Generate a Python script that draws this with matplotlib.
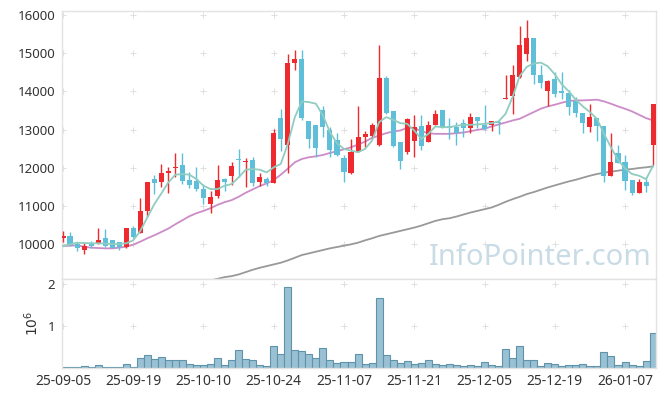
import numpy as np
import matplotlib
matplotlib.use('Agg')
import matplotlib.pyplot as plt

plt.rcParams['font.family'] = ['Noto Sans', 'DejaVu Sans']

# daily OHLC (KRW), 85 trading days 25-09-05 .. 26-01-13
open_ = [10150, 10210, 10010, 9830, 10020, 10010, 10150, 10100, 10045, 9920,
         10410, 10300, 10870, 11700, 11630, 11860, 11980, 12080, 11685, 11660,
         11440, 11060, 11265, 11700, 11770, 12210, 12140, 12200, 11615, 11700,
         11590, 13305, 12605, 14745, 14860, 13210, 13105, 13520, 12975, 12730,
         12250, 11860, 12420, 12815, 12840, 12595, 14360, 13475, 12685, 12405,
         12695, 13090, 12665, 13105, 13520, 13080, 13060, 13175, 13045, 13340,
         13105, 13105, 13195, 13790, 13875, 14375, 14990, 15405, 14440, 14010,
         14315, 14010, 13965, 13735, 13440, 13060, 13305, 13080, 11770, 12380,
         12160, 11685, 11325, 11630, 12595]
close = [10210, 9975, 9905, 9950, 9950, 10105, 9950, 9905, 9920, 10410,
         10185, 10870, 11630, 11590, 11860, 11920, 12025, 11660, 11550, 11440,
         11195, 11235, 11685, 11630, 12050, 12190, 12180, 11590, 11765, 11590,
         12910, 12755, 14755, 14860, 13305, 12755, 12520, 13060, 12450, 12335,
         11885, 12420, 12815, 12870, 13105, 14350, 13430, 12580, 12185, 13265,
         13060, 12560, 13105, 13410, 13045, 13045, 12910, 13045, 13340, 13235,
         13020, 13210, 13180, 13825, 14420, 15210, 15405, 14440, 14220, 14265,
         13920, 13955, 13590, 13430, 13165, 13340, 13080, 11770, 12160, 12125,
         11660, 11325, 11630, 11525, 13675]
high = [10340, 10315, 10060, 10035, 10080, 10410, 10385, 10100, 10060, 10430,
        10465, 11200, 11630, 11815, 12095, 12010, 12395, 12395, 11880, 12010,
        11570, 11395, 12080, 11720, 12140, 12490, 12255, 12290, 11850, 11765,
        13015, 13545, 14990, 15095, 15095, 13210, 13105, 13605, 13060, 12905,
        12330, 12755, 13605, 12955, 13165, 15210, 14395, 13475, 12685, 13305,
        13370, 13370, 13220, 13520, 13520, 13305, 13195, 13265, 13430, 13340,
        13650, 13235, 13235, 14440, 14685, 15710, 15870, 15405, 14685, 14290,
        14510, 14510, 14025, 13850, 13440, 13675, 13305, 13080, 12910, 12595,
        12335, 11685, 11700, 11745, 13675]
low = [10040, 9950, 9815, 9730, 9885, 9990, 9920, 9885, 9835, 9905,
       10150, 10300, 10710, 11305, 11500, 11325, 11745, 11570, 11465, 11395,
       11045, 10805, 11200, 11380, 11545, 11745, 11500, 11525, 11525, 11525,
       11590, 12445, 11850, 14570, 13255, 12520, 12290, 12800, 12270, 12315,
       11625, 11835, 12420, 12535, 12780, 12580, 13395, 12535, 11975, 12360,
       12270, 12465, 12665, 13105, 13045, 12755, 12605, 12800, 12910, 13045,
       13000, 12950, 12885, 13790, 13395, 14360, 14800, 14200, 14095, 13615,
       13850, 13790, 13370, 13325, 12905, 12930, 12710, 11615, 11770, 12125,
       11410, 11280, 11325, 11350, 12070]

# moving averages as drawn on the chart
ma5 = [9947, 9991, 10035, 10026, 10018, 10018, 10009, 10000, 10000, 10018,
       10097, 10342, 10693, 11044, 11325, 11614, 11816, 11833, 11816, 11702,
       11526, 11439, 11439, 11526, 11570, 11746, 11947, 11965, 11947, 11877,
       12009, 12097, 12623, 13325, 13737, 13719, 13675, 13368, 12930, 12640,
       12491, 12447, 12404, 12491, 12711, 13193, 13325, 13254, 13167, 13149,
       12974, 12754, 12886, 13079, 13061, 13061, 13096, 13123, 13123, 13132,
       13149, 13167, 13211, 13412, 13851, 14395, 14640, 14728, 14754, 14658,
       14447, 14184, 14000, 13781, 13605, 13456, 13281, 12886, 12535, 12202,
       11982, 11833, 11789, 11702, 12053]
ma20 = [9947, 9956, 9965, 9930, 9904, 9895, 9886, 9886, 9904, 9930,
        9982, 10061, 10149, 10228, 10316, 10404, 10518, 10623, 10728, 10807,
        10868, 10939, 11026, 11096, 11149, 11237, 11342, 11430, 11518, 11588,
        11675, 11816, 11974, 12140, 12228, 12272, 12298, 12333, 12386, 12430,
        12482, 12535, 12605, 12684, 12781, 12842, 12904, 12947, 12974, 13044,
        13044, 12956, 12904, 12886, 12886, 12886, 12904, 12921, 12956, 12991,
        13018, 13079, 13132, 13184, 13237, 13281, 13368, 13456, 13544, 13605,
        13649, 13702, 13746, 13763, 13763, 13772, 13781, 13737, 13675, 13605,
        13544, 13474, 13386, 13298, 13237]
ma120 = [np.nan] * 21 + [
        9044, 9088, 9132, 9158, 9202, 9263, 9325, 9377, 9421,
        9465, 9509, 9570, 9640, 9711, 9754, 9798, 9842, 9886, 9921,
        9956, 9991, 10035, 10096, 10149, 10211, 10254, 10298, 10342, 10386,
        10430, 10482, 10544, 10605, 10649, 10675, 10719, 10772, 10825, 10868,
        10912, 10956, 11026, 11105, 11175, 11237, 11307, 11360, 11421, 11482,
        11535, 11588, 11640, 11684, 11737, 11789, 11833, 11868, 11895, 11921,
        11947, 11965, 11991, 12009, 12035]

volume = [20000, 20000, 20000, 50000, 20000, 70000, 20000, 20000, 20000, 100000,
          20000, 240000, 310000, 220000, 260000, 180000, 200000, 180000, 100000, 70000,
          70000, 100000, 240000, 70000, 200000, 430000, 220000, 180000, 70000, 50000,
          530000, 340000, 1940000, 430000, 410000, 340000, 240000, 480000, 180000, 120000,
          140000, 140000, 340000, 100000, 120000, 1660000, 310000, 200000, 120000, 170000,
          100000, 120000, 190000, 100000, 70000, 100000, 70000, 50000, 70000, 50000,
          140000, 70000, 50000, 460000, 240000, 530000, 190000, 190000, 50000, 120000,
          100000, 50000, 70000, 70000, 100000, 50000, 50000, 380000, 290000, 70000,
          140000, 70000, 50000, 170000, 840000]

tick_pos = [0, 10, 20, 30, 40, 50, 60, 70, 80]
tick_labels = ['25-09-05', '25-09-19', '25-10-10', '25-10-24', '25-11-07',
               '25-11-21', '25-12-05', '25-12-19', '26-01-07']
price_ticks = [10000, 11000, 12000, 13000, 14000, 15000, 16000]

UP = '#ee2a2e'
DOWN = '#5fbfd9'
SPINE = '#e3e3e3'
TXT = '#333333'

o = np.array(open_, float)
c = np.array(close, float)
h = np.array(high, float)
l = np.array(low, float)
x = np.arange(len(o))
up = c >= o
colors = np.where(up, UP, DOWN)

fig = plt.figure(figsize=(6.65, 3.97), dpi=100)
ax1 = fig.add_axes([62/665, 1 - 279/397, 594/665, 268/397])
ax2 = fig.add_axes([62/665, 1 - 368/397, 594/665, 89/397], sharex=ax1)

# "+" grid marks
for ax, yt in [(ax1, price_ticks), (ax2, [1, 2])]:
    gx, gy = np.meshgrid(tick_pos, yt)
    ax.plot(gx.ravel(), gy.ravel(), ls='none', marker='+', ms=5, mew=0.7,
            color='#e0e0e0', zorder=0)

# watermark
ax1.text(0.805, 0.082, 'InfoPointer.com', transform=ax1.transAxes,
         fontsize=21, color='#c9dce6', ha='center', va='center', zorder=0)

# moving averages
ax1.plot(x, ma120, color='#999999', lw=1.3, zorder=2)
ax1.plot(x, ma20, color='#cc8cc7', lw=1.3, zorder=2)
ax1.plot(x, ma5, color='#8fcdc0', lw=1.3, zorder=4)

# candles
ax1.vlines(x, l, h, colors=colors, lw=1.0, zorder=3)
body = np.maximum(np.abs(c - o), 25)
ax1.bar(x, body, bottom=np.minimum(o, c), width=0.72, color=colors,
        linewidth=0, zorder=3)

# volume
ax2.bar(x, np.array(volume) / 1e6, width=1.0, color='#9ac1d3',
        edgecolor='#5f93ab', linewidth=0.8, zorder=2)

ax1.set_xlim(-0.14, 84.41)
ax1.set_ylim(9083, 16105)
ax2.set_ylim(0, 2.12)

ax1.set_yticks(price_ticks)
ax2.set_yticks([1, 2])
ax2.set_yticklabels(['1', '2'])
ax2.set_xticks(tick_pos)
ax2.set_xticklabels(tick_labels)
ax2.set_ylabel(r'$10^6$', fontsize=10, color=TXT, labelpad=4)

for ax in (ax1, ax2):
    for s in ax.spines.values():
        s.set_color(SPINE)
        s.set_linewidth(1.0)
    ax.tick_params(length=0, labelsize=9.5, colors=TXT, pad=5)
ax1.tick_params(axis='x', labelbottom=False)
ax2.tick_params(axis='x', labelsize=10, pad=4)

fig.savefig('out.png', dpi=100)
